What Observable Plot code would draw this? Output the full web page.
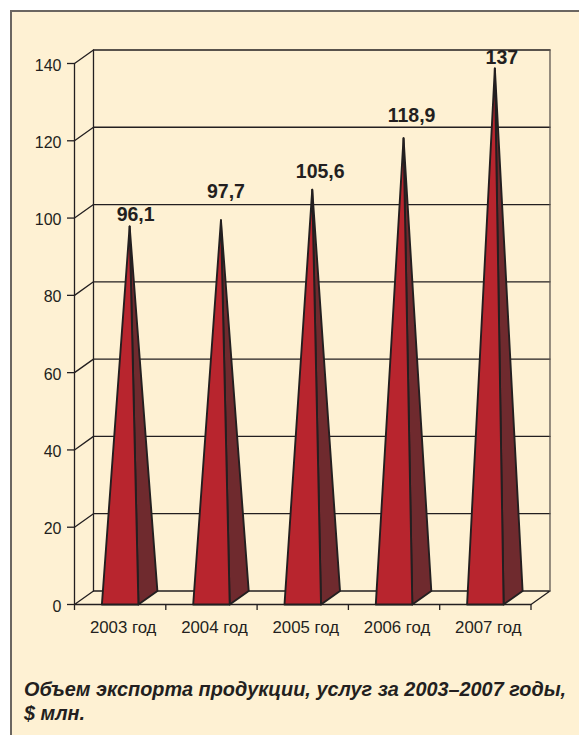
<!DOCTYPE html>
<html lang="ru">
<head>
<meta charset="utf-8">
<script src="https://cdn.jsdelivr.net/npm/d3@7"></script>
<script src="https://cdn.jsdelivr.net/npm/@observablehq/plot@0.6"></script>
<style>
  html, body { margin: 0; padding: 0; background: #fff; overflow: hidden; }
  #panel { position: absolute; left: 10px; top: 10px; width: 600px; height: 760px;
           box-sizing: border-box; background: #FEF1D3; border: 2px solid #6b6661; }
  #chart { position: absolute; left: 0; top: 0; }
  #chart svg { display: block; background: transparent; overflow: visible; }
  #caption { position: absolute; left: 24px; top: 677px; width: 550px; margin: 0;
             font: italic bold 19.85px/24px "Liberation Sans", sans-serif; color: #231F20; }
</style>
</head>
<body>
<div id="panel"></div>
<div id="chart"></div>
<p id="caption">Объем экспорта продукции, услуг за 2003–2007 годы,<br>$ млн.</p>
<script>
const years = ["2003 год", "2004 год", "2005 год", "2006 год", "2007 год"];
const values = [96.1, 97.7, 105.6, 118.9, 137];
const valueLabels = ["96,1", "97,7", "105,6", "118,9", "137"];
const yTicks = [0, 20, 40, 60, 80, 100, 120, 140];

// 3D projection of the chart, in scale units
const depthX = 0.208, depthY = 3.5, halfBase = 0.2;
// Hand-placed offset of each value label from its apex, pixels
const labelLift = [5, 22, 12, 16, 4];
const labelShift = [6, 5, 8, 8, 7];

const ink = "#231F20";
const i5 = d3.range(years.length);

const gridLines = yTicks.slice(1).flatMap(t => [
  {k: t, x: 0, y: t},
  {k: t, x: depthX, y: t + depthY},
  {k: t, x: 5 + depthX, y: t + depthY}
]);
const floor = [
  {x: 0, y: 0}, {x: depthX, y: depthY}, {x: 5 + depthX, y: depthY},
  {x: 5, y: 0}, {x: 0, y: 0}
];
const frontFaces = i5.flatMap(i => [
  {k: i, x: i + .5 - halfBase, y: 0},
  {k: i, x: i + .5 + halfBase, y: 0},
  {k: i, x: i + .5 + depthX / 2, y: values[i] + depthY / 2},
  {k: i, x: i + .5 - halfBase, y: 0}
]);
const sideFaces = i5.flatMap(i => [
  {k: i, x: i + .5 + halfBase, y: 0},
  {k: i, x: i + .5 + halfBase + depthX, y: depthY},
  {k: i, x: i + .5 + depthX / 2, y: values[i] + depthY / 2},
  {k: i, x: i + .5 + halfBase, y: 0}
]);

const plot = Plot.plot({
  width: 579, height: 650,
  marginLeft: 74, marginRight: 48.5, marginTop: 63, marginBottom: 46,
  x: {domain: [0, 5], axis: null},
  y: {domain: [0, 140], axis: null},
  style: {fontFamily: '"Liberation Sans", sans-serif', fontSize: "16px", color: ink, background: "transparent"},
  marks: [
    // walls and grid
    Plot.line(gridLines, {x: "x", y: "y", z: "k", stroke: ink, strokeWidth: 1.3}),
    Plot.line(floor, {x: "x", y: "y", stroke: ink, strokeWidth: 1.3}),
    Plot.line([{x: 0, y: 0}, {x: 0, y: 140}], {x: "x", y: "y", stroke: ink, strokeWidth: 1.3}),
    Plot.line([{x: depthX, y: depthY}, {x: depthX, y: 140 + depthY}], {x: "x", y: "y", stroke: ink, strokeWidth: 1.3}),
    Plot.line([{x: 5 + depthX, y: depthY}, {x: 5 + depthX, y: 140 + depthY}], {x: "x", y: "y", stroke: "#5c5650", strokeWidth: 1.3}),
    // axes
    Plot.axisY({anchor: "left", label: null, ticks: yTicks, tickSize: 7, tickFormat: () => "", stroke: ink, strokeWidth: 1.3}),
    Plot.axisY({anchor: "left", label: null, ticks: yTicks, tickSize: 0, tickPadding: 13, dy: 2, fill: ink, fontSize: 16}),
    Plot.axisX({anchor: "bottom", label: null, ticks: d3.range(6), tickSize: 6, tickFormat: () => "", stroke: ink, strokeWidth: 1.3}),
    Plot.text(years, {x: (d, i) => i + .5, y: () => 0, text: d => d, dx: 3, dy: 23, fill: ink, fontSize: 16.8}),
    // pyramids
    Plot.line(sideFaces, {x: "x", y: "y", z: "k", fill: "#6F2A2E", stroke: ink, strokeWidth: 1.9}),
    Plot.line(frontFaces, {x: "x", y: "y", z: "k", fill: "#B8252E", stroke: ink, strokeWidth: 1.9}),
    // value labels
    Plot.text(valueLabels, {
      x: (d, i) => i + .5 + depthX / 2,
      y: (d, i) => values[i] + depthY / 2,
      text: d => d,
      fill: ink, fontWeight: "bold", fontSize: 19.5, lineAnchor: "bottom",
      render(index, scales, channels, dims, ctx, next) {
        const g = next(index, scales, channels, dims, ctx);
        g.querySelectorAll("text").forEach((t, n) => {
          const i = index[n];
          t.setAttribute("transform", `translate(${scales.x(i + .5 + depthX / 2) + labelShift[i]},${scales.y(values[i] + depthY / 2) - labelLift[i]})`);
        });
        return g;
      }
    })
  ]
});
document.getElementById("chart").append(plot);
</script>
</body>
</html>
